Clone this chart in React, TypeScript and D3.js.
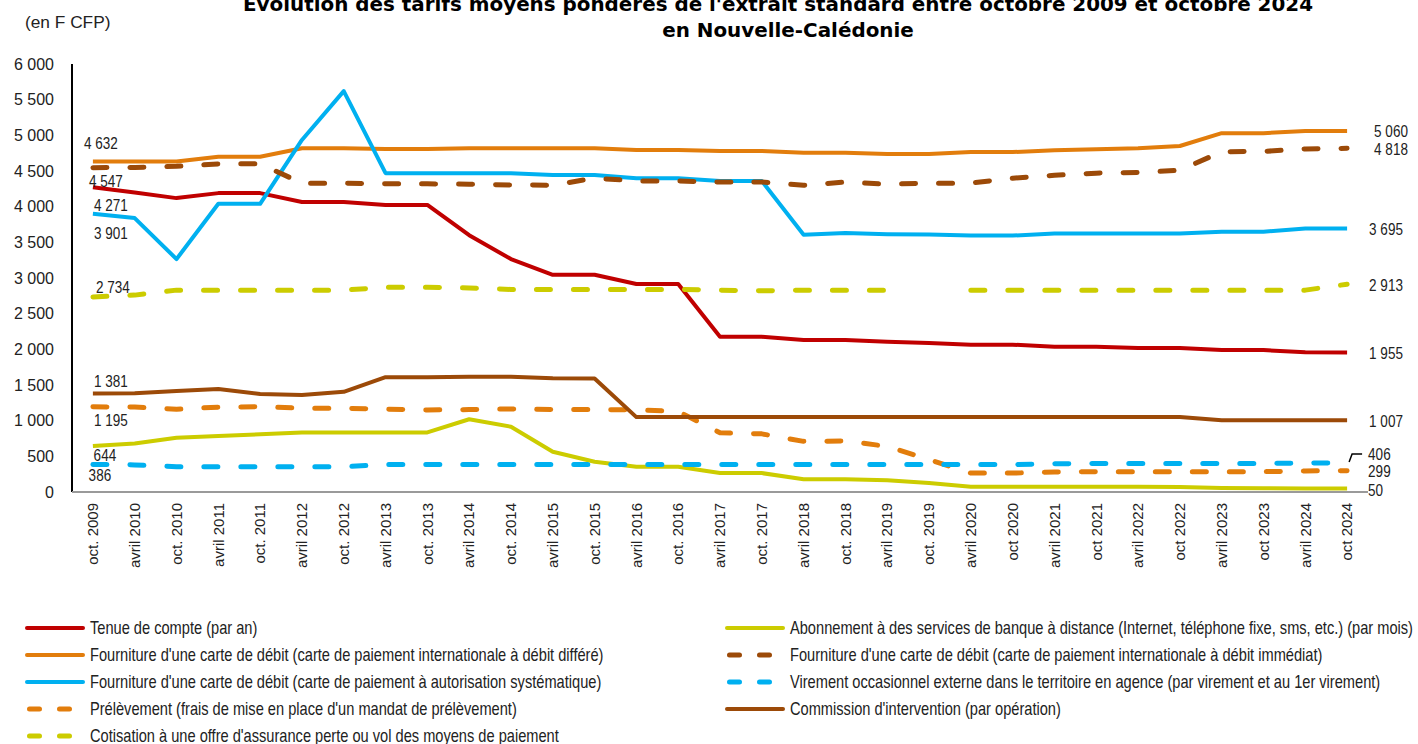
import { useEffect, useRef } from "react"
import * as d3 from "d3"

const periods = [
    "oct. 2009", "avril 2010", "oct. 2010", "avril 2011", "oct. 2011", "avril 2012", "oct. 2012",
    "avril 2013", "oct. 2013", "avril 2014", "oct. 2014", "avril 2015", "oct. 2015", "avril 2016",
    "oct. 2016", "avril 2017", "oct. 2017", "avril 2018", "oct. 2018", "avril 2019", "oct. 2019",
    "avril 2020", "oct 2020", "avril 2021", "oct 2021", "avril 2022", "oct 2022", "avril 2023",
    "oct 2023", "avril 2024", "oct 2024",
]

const yTicks = [0, 500, 1000, 1500, 2000, 2500, 3000, 3500, 4000, 4500, 5000, 5500, 6000]

// valeurs (F CFP)
const tenueCompte = [4271, 4200, 4120, 4190, 4190, 4065, 4065, 4025, 4025, 3600, 3265, 3045, 3045, 2915, 2915, 2175, 2175, 2130, 2130, 2105, 2090, 2065, 2065, 2035, 2035, 2020, 2020, 1990, 1990, 1960, 1955]
const carteDiffere = [4632, 4632, 4632, 4700, 4700, 4820, 4820, 4810, 4810, 4820, 4820, 4820, 4820, 4795, 4795, 4780, 4780, 4755, 4755, 4740, 4740, 4765, 4765, 4790, 4805, 4820, 4850, 5030, 5030, 5060, 5060]
const carteSystematique = [3901, 3840, 3265, 4040, 4040, 4935, 5620, 4470, 4470, 4470, 4470, 4445, 4445, 4400, 4400, 4360, 4360, 3605, 3630, 3615, 3610, 3595, 3595, 3625, 3625, 3625, 3625, 3650, 3650, 3695, 3695]
const prelevement = [1195, 1190, 1160, 1190, 1195, 1175, 1175, 1160, 1150, 1155, 1165, 1155, 1155, 1150, 1130, 830, 815, 710, 715, 640, 455, 265, 265, 280, 285, 285, 285, 285, 285, 295, 299]
const cotisation = [2734, 2760, 2830, 2830, 2830, 2830, 2830, 2870, 2870, 2860, 2840, 2840, 2840, 2840, 2840, 2830, 2820, 2830, 2830, 2830, null, 2830, 2830, 2830, 2830, 2830, 2830, 2830, 2830, 2830, 2913]
const abonnement = [644, 680, 760, 785, 810, 835, 835, 835, 835, 1020, 915, 565, 425, 355, 355, 265, 265, 180, 178, 165, 125, 75, 75, 75, 75, 75, 70, 55, 52, 50, 50]
const carteImmediat = [4547, 4550, 4565, 4600, 4600, 4330, 4330, 4320, 4320, 4315, 4305, 4300, 4400, 4360, 4360, 4345, 4345, 4300, 4345, 4315, 4330, 4330, 4400, 4440, 4470, 4480, 4510, 4770, 4775, 4810, 4818]
const virement = [386, 380, 355, 355, 355, 355, 355, 385, 385, 385, 385, 385, 385, 385, 385, 385, 385, 385, 385, 385, 385, 385, 385, 395, 400, 400, 400, 400, 400, 405, 406]
const commission = [1381, 1385, 1415, 1445, 1375, 1360, 1405, 1610, 1610, 1615, 1615, 1595, 1590, 1050, 1050, 1050, 1050, 1050, 1050, 1050, 1050, 1050, 1050, 1050, 1050, 1050, 1050, 1005, 1005, 1007, 1007]

const series = [
    { name: "Tenue de compte (par an)", values: tenueCompte, color: "#C00000", dashed: false, first: [18, 18], last: [22, 1] },
    { name: "Fourniture d'une carte de débit (carte de paiement internationale à débit différé)", values: carteDiffere, color: "#E27D0C", dashed: false, first: [8, -18], last: [27, 0] },
    { name: "Fourniture d'une carte de débit (carte de paiement à autorisation systématique)", values: carteSystematique, color: "#00B0F0", dashed: false, first: [18, 19], last: [22, 1] },
    { name: "Prélèvement (frais de mise en place d'un mandat de prélèvement)", values: prelevement, color: "#E27D0C", dashed: true, first: [18, 13], last: [21, 1] },
    { name: "Cotisation à une offre d'assurance perte ou vol des moyens de paiement", values: cotisation, color: "#CCCC00", dashed: true, first: [20, -10], last: [22, 1] },
    { name: "Abonnement à des services de banque à distance (Internet, téléphone fixe, sms, etc.) (par mois)", values: abonnement, color: "#CCCC00", dashed: false, first: [12, 9], last: [21, 2] },
    { name: "Fourniture d'une carte de débit (carte de paiement internationale à débit immédiat)", values: carteImmediat, color: "#9C4A08", dashed: true, first: [13, 14], last: [27, 1] },
    { name: "Virement occasionnel externe dans le territoire en agence (par virement et au 1er virement)", values: virement, color: "#00B0F0", dashed: true, first: [7, 11], last: [21, -9] },
    { name: "Commission d'intervention (par opération)", values: commission, color: "#9C4A08", dashed: false, first: [18, -12], last: [22, 1] },
]

const legendLeft = [0, 1, 2, 3, 4]
const legendRight = [5, 6, 7, 8]

const W = 1418
const H = 744
const NARROW = 0.82
const LEGEND_NARROW = 0.836

export default function App() {
    const svgRef = useRef(null)

    useEffect(() => {
        document.body.style.margin = "0"
        const svg = d3.select(svgRef.current)
        svg.selectAll("*").remove()

        const fmt = d3.formatLocale({ decimal: ",", thousands: " ", grouping: [3], currency: ["", ""] }).format(",d")

        const x = d3.scaleBand().domain(periods).range([72, 1368])
        const cx = (p) => x(p) + x.bandwidth() / 2
        const y = d3.scaleLinear().domain([0, 6000]).range([492, 64])

        // titre (coupé en haut comme dans l'original)
        svg.append("text")
            .attr("x", 778).attr("y", 11)
            .attr("text-anchor", "middle")
            .style("font-family", "DejaVu Sans").style("font-weight", "bold").style("font-size", "19.9px")
            .text("Évolution des tarifs moyens pondérés de l'extrait standard entre octobre 2009 et octobre 2024")
        svg.append("text")
            .attr("x", 788).attr("y", 37)
            .attr("text-anchor", "middle")
            .style("font-family", "DejaVu Sans").style("font-weight", "bold").style("font-size", "19.9px")
            .text("en Nouvelle-Calédonie")

        svg.append("text")
            .attr("x", 25).attr("y", 28)
            .style("font-family", "Liberation Sans").style("font-size", "17.3px").attr("fill", "#222")
            .text("(en F CFP)")

        // axe Y
        svg.append("g").selectAll("text")
            .data(yTicks).enter().append("text")
            .attr("x", 54).attr("y", (d) => y(d)).attr("dy", "0.35em")
            .attr("text-anchor", "end")
            .style("font-family", "Liberation Sans").style("font-size", "16px").attr("fill", "#222")
            .text((d) => fmt(d))
        svg.append("line")
            .attr("x1", 72).attr("x2", 72).attr("y1", y(6000)).attr("y2", y(0))
            .attr("stroke", "#000").attr("stroke-width", 2)

        // axe X
        svg.append("line")
            .attr("x1", 72).attr("x2", 1368).attr("y1", y(0)).attr("y2", y(0))
            .attr("stroke", "#9A9A9A").attr("stroke-width", 2)
        svg.append("g").selectAll("text")
            .data(periods).enter().append("text")
            .attr("transform", (d) => `translate(${cx(d)},503) rotate(-90)`)
            .attr("dy", "0.35em")
            .attr("text-anchor", "end")
            .style("font-family", "Liberation Sans").style("font-size", "15px").attr("fill", "#222")
            .text((d) => d)

        // courbes
        const line = d3.line()
            .defined((v) => v != null)
            .x((v, i) => cx(periods[i]))
            .y((v) => y(v))

        series.forEach((s) => {
            svg.append("path")
                .datum(s.values)
                .attr("d", line)
                .attr("fill", "none")
                .attr("stroke", s.color)
                .attr("stroke-width", s.dashed ? 5 : 4)
                .attr("stroke-linejoin", "round")
                .attr("stroke-linecap", s.dashed ? "round" : "butt")
                .attr("stroke-dasharray", s.dashed ? "14,23" : null)
        })

        // étiquettes de début et de fin
        const labelFont = (sel) => sel
            .style("font-family", "Liberation Sans").style("font-size", "16.5px").attr("fill", "#222")
        series.forEach((s) => {
            const v0 = s.values[0]
            const n = s.values.length - 1
            const vn = s.values[n]
            svg.append("text")
                .attr("transform", `translate(${cx(periods[0]) + s.first[0]},${y(v0) + s.first[1]}) scale(${NARROW},1)`)
                .attr("dy", "0.35em").attr("text-anchor", "middle")
                .call(labelFont)
                .text(fmt(v0))
            svg.append("text")
                .attr("transform", `translate(${cx(periods[n]) + s.last[0]},${y(vn) + s.last[1]}) scale(${NARROW},1)`)
                .attr("dy", "0.35em")
                .call(labelFont)
                .text(fmt(vn))
        })

        // ligne de rappel pour 406
        const px = cx(periods[periods.length - 1])
        const py = y(virement[virement.length - 1])
        svg.append("path")
            .attr("d", `M${px + 2},${py - 1} L${px + 5},${py - 9} L${px + 15},${py - 9}`)
            .attr("fill", "none").attr("stroke", "#000").attr("stroke-width", 1.5)

        // légende
        const drawLegend = (idx, x0) => {
            idx.forEach((k, row) => {
                const s = series[k]
                const ly = 628 + row * 27
                svg.append("line")
                    .attr("x1", x0 + (s.dashed ? 2.5 : 0)).attr("x2", x0 + 56)
                    .attr("y1", ly).attr("y2", ly)
                    .attr("stroke", s.color)
                    .attr("stroke-width", s.dashed ? 5 : 4)
                    .attr("stroke-linecap", "round")
                    .attr("stroke-dasharray", s.dashed ? "10,20" : null)
                svg.append("text")
                    .attr("transform", `translate(${x0 + 63},${ly}) scale(${LEGEND_NARROW},1)`)
                    .attr("dy", "0.35em")
                    .style("font-family", "Liberation Sans").style("font-size", "17.5px").attr("fill", "#222")
                    .text(s.name)
            })
        }
        drawLegend(legendLeft, 27)
        drawLegend(legendRight, 727)
    }, [])

    return (
        <div style={{ width: W, height: H, background: "#fff" }}>
            <svg ref={svgRef} width={W} height={H} style={{ display: "block" }}></svg>
        </div>
    )
}
